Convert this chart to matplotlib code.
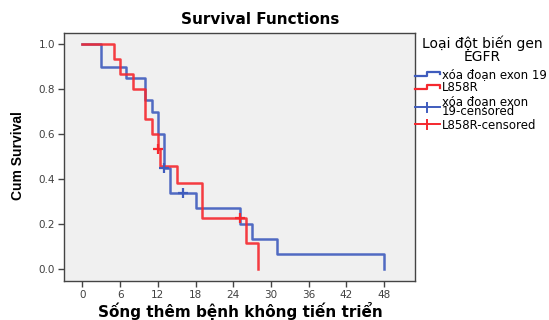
import matplotlib
matplotlib.use("Agg")
import matplotlib.pyplot as plt
from matplotlib.lines import Line2D
from matplotlib.legend_handler import HandlerBase

plt.rcParams['font.family'] = ['DejaVu Sans']

# ---- data ----
blue_label = "xóa đoạn exon 19"
red_label = "L858R"
blue_cens_label = "xóa đoạn exon\n19-censored"
red_cens_label = "L858R-censored"
legend_title = "Loại đột biến gen\nEGFR"

blue_times = [0, 3, 7, 10, 11, 12, 13, 14, 18, 25, 27, 31, 48]
blue_surv = [1.0, 0.90, 0.85, 0.75, 0.70, 0.60, 0.45, 0.3375, 0.27, 0.2025, 0.135, 0.0675, 0.0]
blue_cens_t = [13, 16]
blue_cens_s = [0.45, 0.3375]

red_times = [0, 5, 6, 8, 10, 11, 12, 12.4, 15, 19, 26, 28]
red_surv = [1.0, 0.933, 0.867, 0.80, 0.667, 0.60, 0.533, 0.457, 0.381, 0.229, 0.114, 0.0]
red_cens_t = [12, 25]
red_cens_s = [0.533, 0.229]

x_ticks = [0, 6, 12, 18, 24, 30, 36, 42, 48]
y_ticks = [0.0, 0.2, 0.4, 0.6, 0.8, 1.0]

BLUE = '#3F5CBD'
RED = '#F5282E'

W, H = 549, 320
fig = plt.figure(figsize=(W / 100, H / 100), dpi=100)
fig.patch.set_facecolor('white')
ax = fig.add_axes([64 / W, 1 - 281 / H, (415 - 64) / W, (281 - 33) / H])
ax.set_facecolor('#F0F0F0')

ax.step(blue_times, blue_surv, where='post', color=BLUE, lw=1.8, alpha=0.9)
ax.step(red_times, red_surv, where='post', color=RED, lw=1.8, alpha=0.9)
ax.plot(blue_cens_t, blue_cens_s, ls='none', marker='+', ms=7, mew=1.6, color=BLUE)
ax.plot(red_cens_t, red_cens_s, ls='none', marker='+', ms=7, mew=1.6, color=RED)

ax.set_xlim(-2.93, 52.9)
ax.set_ylim(-0.053, 1.049)
ax.set_xticks(x_ticks)
ax.set_xticklabels([str(v) for v in x_ticks])
ax.set_yticks(y_ticks)
ax.set_yticklabels([f"{v:.1f}" for v in y_ticks])
ax.tick_params(direction='out', length=4, width=1, colors='#444444', labelsize=7.5,
               labelcolor='#404040', pad=2.5)
for s in ax.spines.values():
    s.set_color('#444444')
    s.set_linewidth(1)

fig.text(260 / W, 1 - 20 / H, "Survival Functions", ha='center', va='center',
         fontsize=11, fontweight='bold')
fig.text(240 / W, 1 - 311 / H, "Sống thêm bệnh không tiến triển", ha='center', va='center',
         fontsize=11, fontweight='bold')
fig.text(18 / W, 1 - 156 / H, "Cum Survival", ha='center', va='center', rotation=90,
         fontsize=10, fontweight='bold',
         family=['Liberation Sans Narrow', 'Liberation Sans', 'DejaVu Sans'])
fig.text(482 / W, 1 - 50 / H, legend_title, ha='center', va='center', fontsize=10,
         linespacing=0.95)


class StepHandler(HandlerBase):
    def __init__(self, color):
        super().__init__()
        self.color = color

    def create_artists(self, legend, orig_handle, xdescent, ydescent, width, height, fontsize, trans):
        x0 = -xdescent
        xs = [x0, x0 + 0.5 * width, x0 + 0.5 * width, x0 + width, x0 + width]
        ys = [0.3 * height, 0.3 * height, 0.75 * height, 0.75 * height, 0.45 * height]
        return [Line2D(xs, ys, color=self.color, lw=1.6, transform=trans)]


class CensHandler(HandlerBase):
    def __init__(self, color):
        super().__init__()
        self.color = color

    def create_artists(self, legend, orig_handle, xdescent, ydescent, width, height, fontsize, trans):
        x0 = -xdescent
        y = 0.5 * height
        h = Line2D([x0, x0 + width], [y, y], color=self.color, lw=1.4, transform=trans)
        v = Line2D([x0 + 0.5 * width] * 2, [y - 0.55 * height, y + 0.55 * height],
                   color=self.color, lw=1.4, transform=trans)
        return [h, v]


hb, hr, hbc, hrc = Line2D([], []), Line2D([], []), Line2D([], []), Line2D([], [])
leg = ax.legend([hb, hr, hbc, hrc],
                [blue_label, red_label, blue_cens_label, red_cens_label],
                handler_map={hb: StepHandler(BLUE), hr: StepHandler(RED),
                             hbc: CensHandler(BLUE), hrc: CensHandler(RED)},
                fontsize=8.5, loc='upper left', bbox_to_anchor=(415 / W, 1 - 68 / H),
                bbox_transform=fig.transFigure, frameon=False, borderpad=0, borderaxespad=0,
                handlelength=2.1, handletextpad=0.15, labelspacing=0.03)
for t in leg.get_texts():
    t.set_linespacing(0.75)

fig.savefig('out.png', dpi=100, facecolor='white')
